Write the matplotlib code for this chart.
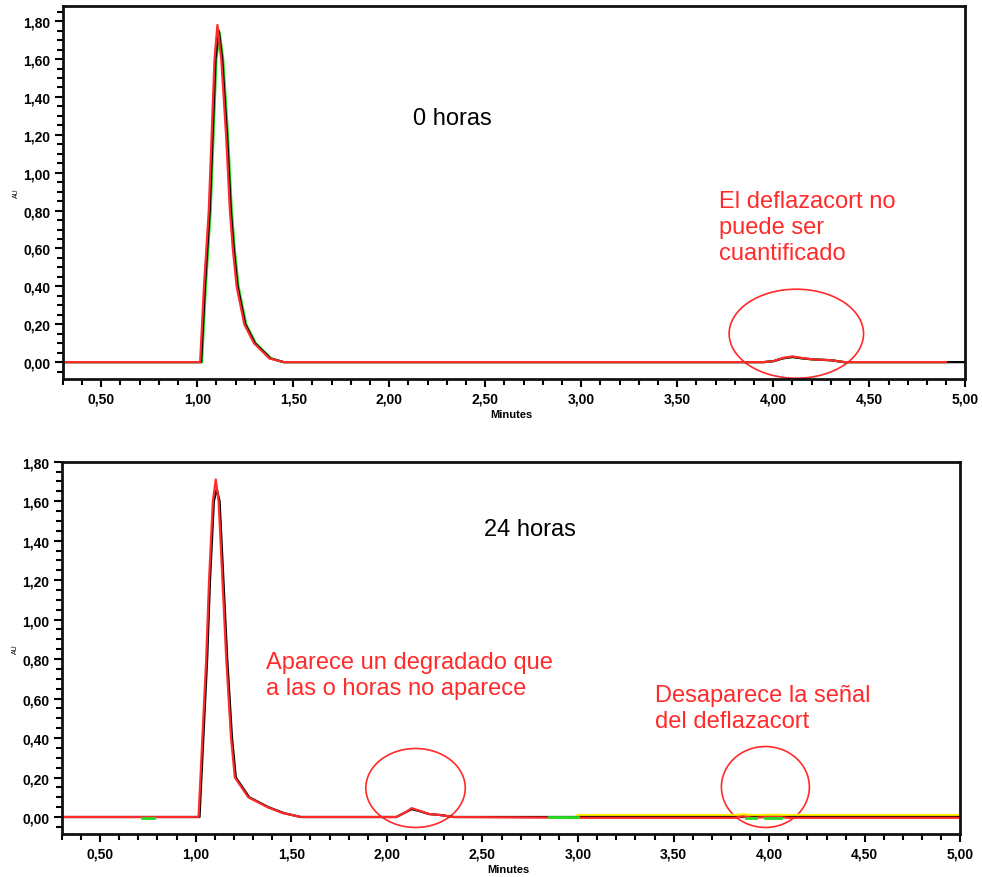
import matplotlib
matplotlib.use("Agg")
import matplotlib.pyplot as plt
from matplotlib.patches import Ellipse
from matplotlib.ticker import MultipleLocator, FuncFormatter

plt.rcParams['font.family'] = ['Liberation Sans', 'DejaVu Sans']

# ---------------- data: top panel (0 horas) ----------------
t_top_black = [0.30, 1.00, 1.02, 1.04, 1.065, 1.08, 1.095, 1.112, 1.13, 1.155, 1.175, 1.19, 1.21, 1.25, 1.30, 1.38, 1.45,
               3.95, 4.00, 4.05, 4.10, 4.15, 4.20, 4.30, 4.37, 5.00]
y_top_black = [0.0, 0.0, 0.0, 0.40, 0.80, 1.20, 1.60, 1.75, 1.60, 1.20, 0.80, 0.60, 0.40, 0.20, 0.10, 0.02, 0.0,
               0.0, 0.005, 0.02, 0.027, 0.02, 0.015, 0.01, 0.0, 0.0]
t_top_red = [0.30, 1.00, 1.015, 1.035, 1.06, 1.075, 1.09, 1.105, 1.125, 1.15, 1.17, 1.185, 1.205, 1.245, 1.295, 1.375, 1.45,
             3.95, 4.00, 4.05, 4.10, 4.15, 4.20, 4.30, 4.37, 4.90]
y_top_red = [0.0, 0.0, 0.0, 0.40, 0.80, 1.20, 1.60, 1.78, 1.60, 1.20, 0.80, 0.60, 0.40, 0.20, 0.10, 0.02, 0.0,
             0.0, 0.005, 0.022, 0.030, 0.022, 0.015, 0.01, 0.0, 0.0]
t_top_green = [0.30, 1.00, 1.025, 1.045, 1.07, 1.085, 1.10, 1.117, 1.135, 1.16, 1.18, 1.195, 1.215, 1.255, 1.305, 1.385, 1.45,
               3.95, 4.00, 4.05, 4.10, 4.15, 4.20, 4.30, 4.37, 4.90]
y_top_green = [0.0, 0.0, 0.0, 0.40, 0.80, 1.20, 1.60, 1.74, 1.60, 1.20, 0.80, 0.60, 0.40, 0.20, 0.10, 0.02, 0.0,
               0.0, 0.005, 0.02, 0.027, 0.02, 0.015, 0.01, 0.0, 0.0]

# ---------------- data: bottom panel (24 horas) ----------------
t_bot_black = [0.30, 1.00, 1.02, 1.04, 1.06, 1.075, 1.095, 1.11, 1.125, 1.145, 1.165, 1.19, 1.21, 1.28, 1.38, 1.46, 1.55,
               2.05, 2.10, 2.13, 2.17, 2.22, 2.28, 2.35, 5.00]
y_bot_black = [0.0, 0.0, 0.0, 0.40, 0.80, 1.20, 1.60, 1.66, 1.60, 1.20, 0.80, 0.40, 0.20, 0.10, 0.05, 0.02, 0.0,
               0.0, 0.025, 0.04, 0.03, 0.015, 0.01, 0.0, 0.0]
t_bot_red = [0.30, 1.00, 1.015, 1.035, 1.055, 1.07, 1.09, 1.105, 1.12, 1.14, 1.16, 1.185, 1.205, 1.275, 1.375, 1.455, 1.55,
             2.05, 2.10, 2.13, 2.17, 2.22, 2.28, 2.35, 3.00, 3.82, 3.86, 3.92, 3.98, 4.05, 4.10, 5.00]
y_bot_red = [0.0, 0.0, 0.0, 0.40, 0.80, 1.20, 1.60, 1.71, 1.60, 1.20, 0.80, 0.40, 0.20, 0.10, 0.05, 0.02, 0.0,
             0.0, 0.025, 0.045, 0.032, 0.015, 0.01, 0.0, -0.004, -0.004, 0.003, -0.004, 0.0, 0.0, -0.004, -0.004]
t_bot_yellow = [3.00, 3.82, 3.86, 3.92, 3.98, 4.05, 4.10, 5.00]
y_bot_yellow = [0.008, 0.008, 0.011, 0.007, 0.009, 0.009, 0.008, 0.008]
seg_green_t = [[0.72, 0.78], [2.85, 3.00], [3.88, 3.93], [3.98, 4.06]]
seg_green_y = [[-0.003, -0.003], [-0.002, -0.002], [-0.006, -0.006], [-0.006, -0.006]]

# ---------------- annotations ----------------
ell_top = dict(xy=(4.12, 0.15), width=0.70, height=0.47)
ell_bot = [dict(xy=(2.15, 0.147), width=0.52, height=0.40),
           dict(xy=(3.98, 0.152), width=0.46, height=0.41)]

red = '#ff2a2a'

fig = plt.figure(figsize=(9.82, 8.78), dpi=100)
ax1 = fig.add_axes([0.064, 0.567, 0.919, 0.425])
ax2 = fig.add_axes([0.063, 0.049, 0.915, 0.424])


def style(ax, ylim):
    ax.set_xlim(0.30, 5.00)
    ax.set_ylim(*ylim)
    for s in ax.spines.values():
        s.set_linewidth(2.0)
        s.set_color('#111111')
    ax.xaxis.set_major_locator(MultipleLocator(0.5))
    ax.xaxis.set_minor_locator(MultipleLocator(0.1))
    ax.yaxis.set_major_locator(MultipleLocator(0.2))
    ax.yaxis.set_minor_locator(MultipleLocator(0.05))
    fmt = FuncFormatter(lambda v, p: f"{v:.2f}".replace('.', ','))
    ax.xaxis.set_major_formatter(fmt)
    ax.yaxis.set_major_formatter(fmt)
    ax.tick_params(axis='both', which='major', direction='out', length=6, width=1.5,
                   labelsize=10, pad=3)
    ax.tick_params(axis='both', which='minor', direction='out', length=4, width=1.5)
    for lab in ax.get_xticklabels() + ax.get_yticklabels():
        lab.set_fontweight('bold')
    ax.annotate('Minutes', xy=(0.5, 0), xycoords='axes fraction', xytext=(-2, -25),
                textcoords='offset points', ha='center', va='center',
                fontsize=8, fontweight='bold')
    ax.set_ylabel('AU', fontsize=5, labelpad=2)


style(ax1, (-0.09, 1.88))
style(ax2, (-0.086, 1.80))

# top traces
ax1.plot(t_top_green, y_top_green, color='#22dd22', lw=1.6)
ax1.plot(t_top_black, y_top_black, color='black', lw=1.6)
ax1.plot(t_top_red, y_top_red, color=red, lw=1.6)
ax1.add_patch(Ellipse(fill=False, edgecolor=red, lw=1.2, **ell_top))
ax1.text(2.33, 1.29, '0 horas', fontsize=17, ha='center', va='center')
ax1.text(3.717, 0.713, 'El deflazacort no\npuede ser\ncuantificado', fontsize=17,
         color=red, ha='left', va='center', linespacing=1.25)

# bottom traces
ax2.plot(t_bot_yellow, y_bot_yellow, color='#ffee00', lw=2.2)
ax2.plot(t_bot_black, y_bot_black, color='black', lw=1.6)
ax2.plot(t_bot_red, y_bot_red, color=red, lw=1.6)
for st, sy in zip(seg_green_t, seg_green_y):
    ax2.plot(st, sy, color='#22dd22', lw=2.0)
for e in ell_bot:
    ax2.add_patch(Ellipse(fill=False, edgecolor=red, lw=1.2, **e))
ax2.text(2.75, 1.46, '24 horas', fontsize=17, ha='center', va='center')
ax2.text(1.366, 0.72, 'Aparece un degradado que\na las o horas no aparece', fontsize=17,
         color=red, ha='left', va='center', linespacing=1.25)
ax2.text(3.40, 0.551, 'Desaparece la señal\ndel deflazacort', fontsize=17,
         color=red, ha='left', va='center', linespacing=1.25)

fig.savefig('out.png', dpi=100)
